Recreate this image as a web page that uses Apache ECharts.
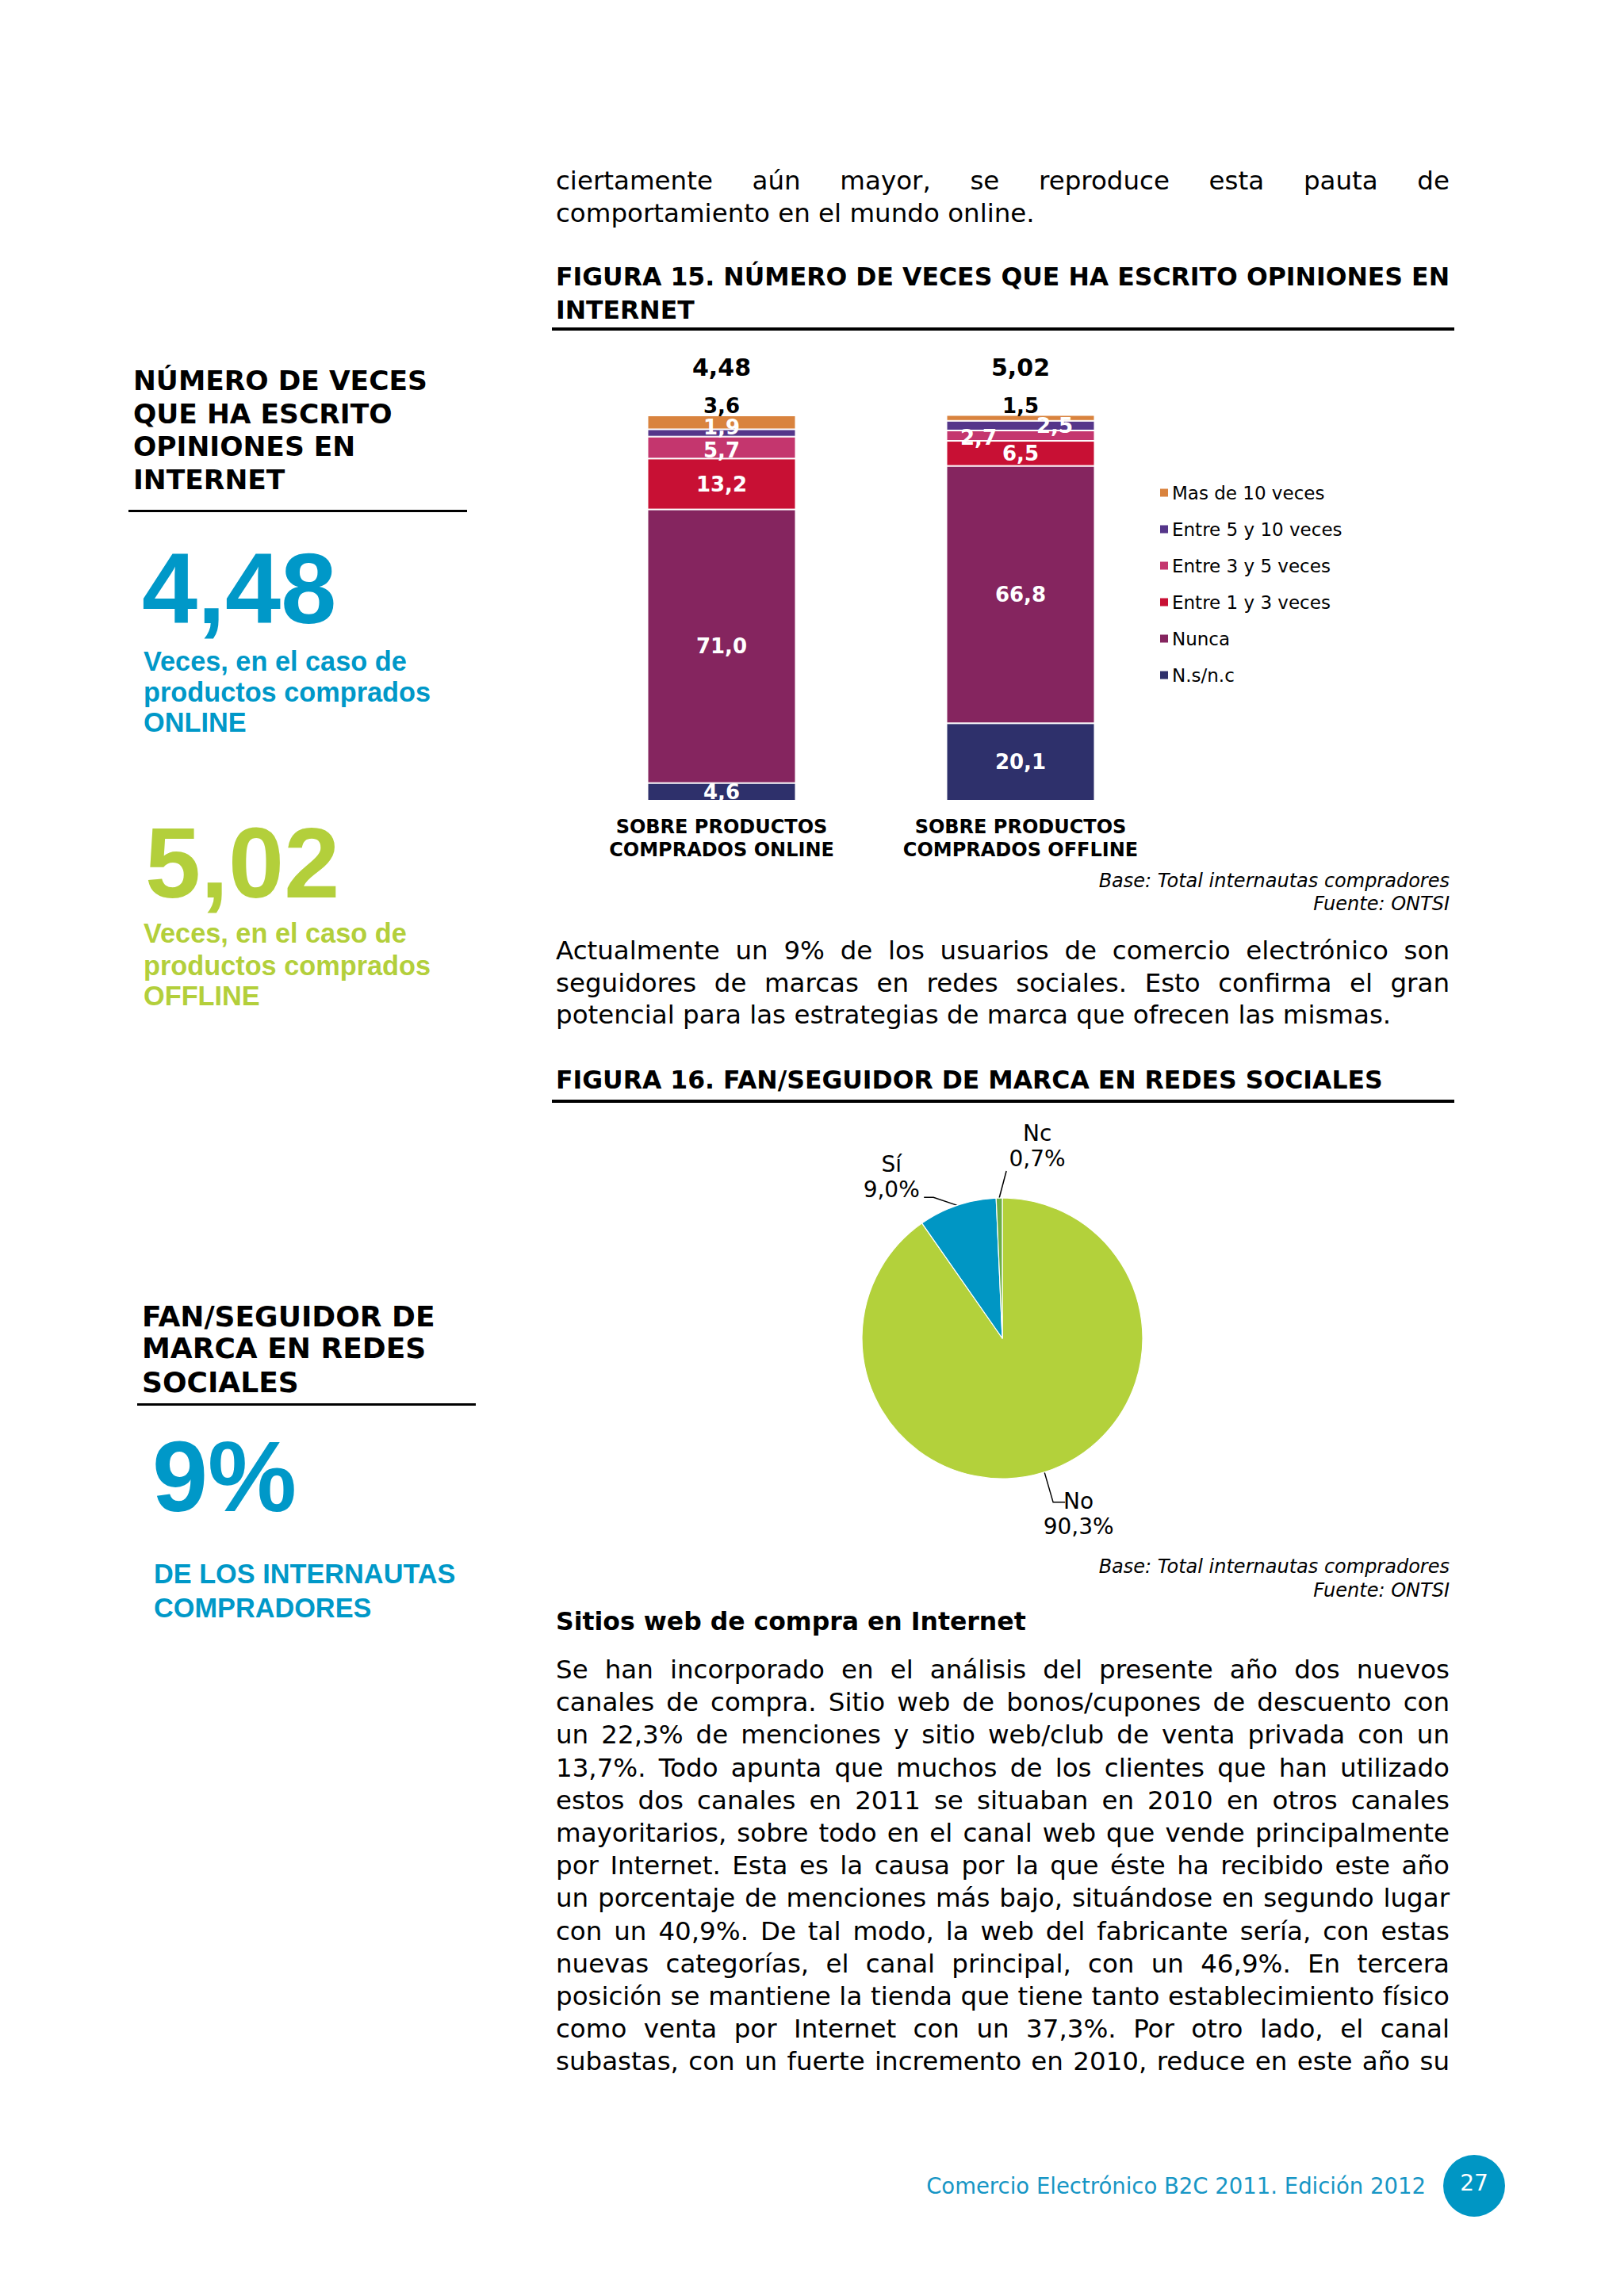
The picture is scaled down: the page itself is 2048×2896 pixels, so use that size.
<!DOCTYPE html>
<html>
<head>
<meta charset="utf-8">
<script src="https://cdn.jsdelivr.net/npm/echarts@6/dist/echarts.min.js"></script>
<style>
html,body{margin:0;padding:0;background:#fff;}
#page{position:relative;width:2048px;height:2896px;overflow:hidden;background:#fff;}
#chart{position:absolute;left:0;top:0;width:2048px;height:2896px;}
.t{position:absolute;white-space:nowrap;color:#000;font-family:'DejaVu Sans',Verdana,sans-serif;z-index:2;}
.body{left:701px;width:1127px;font-size:32.5px;height:40px;line-height:40px;}
.j{text-align:justify;text-align-last:justify;}
.h{font-weight:bold;font-size:31.5px;}
.rule{position:absolute;background:#000;z-index:2;}
.side{font-weight:bold;font-size:34.5px;line-height:40px;height:40px;}
.side2{font-weight:bold;font-size:36px;line-height:40px;height:40px;}
.big{font-family:'Liberation Sans',Arial,sans-serif;font-weight:bold;font-size:126px;line-height:126px;height:126px;}
.sub{font-family:'Liberation Sans',Arial,sans-serif;font-weight:bold;font-size:34.3px;line-height:38px;height:38px;}
.blue{color:#0098C8;}
.green{color:#B3CF3B;}
.src{font-style:italic;font-size:24px;line-height:28px;height:28px;right:220px;text-align:right;}
.foot{font-size:27.5px;line-height:34px;height:34px;right:250px;top:2740px;color:#1796C5;}
.circle{position:absolute;left:1820px;top:2718px;width:78px;height:78px;border-radius:50%;background:#0096C4;color:#fff;font-family:'DejaVu Sans',sans-serif;font-size:28px;line-height:72px;text-align:center;z-index:2;}
</style>
</head>
<body>
<div id="page">
  <div id="chart"></div>

  <!-- Main column text -->
  <div class="t body j" style="top:208px;">ciertamente aún mayor, se reproduce esta pauta de</div>
  <div class="t body" style="top:249px;">comportamiento en el mundo online.</div>

  <div class="t body h j" style="top:329px;">FIGURA 15. NÚMERO DE VECES QUE HA ESCRITO OPINIONES EN</div>
  <div class="t body h" style="top:371px;">INTERNET</div>
  <div class="rule" style="left:696px;top:413px;width:1138px;height:4px;"></div>

  <div class="t src" style="top:1097px;">Base: Total internautas compradores</div>
  <div class="t src" style="top:1126px;">Fuente: ONTSI</div>

  <div class="t body j" style="top:1179px;">Actualmente un 9% de los usuarios de comercio electrónico son</div>
  <div class="t body j" style="top:1220px;">seguidores de marcas en redes sociales. Esto confirma el gran</div>
  <div class="t body" style="top:1260px;">potencial para las estrategias de marca que ofrecen las mismas.</div>

  <div class="t body h" style="top:1342px;">FIGURA 16. FAN/SEGUIDOR DE MARCA EN REDES SOCIALES</div>
  <div class="rule" style="left:696px;top:1387px;width:1138px;height:4px;"></div>

  <div class="t src" style="top:1962px;">Base: Total internautas compradores</div>
  <div class="t src" style="top:1992px;">Fuente: ONTSI</div>

  <div class="t body h" style="top:2025px;">Sitios web de compra en Internet</div>

  <div class="t body j" style="top:2086px;">Se han incorporado en el análisis del presente año dos nuevos</div>
  <div class="t body j" style="top:2127px;">canales de compra. Sitio web de bonos/cupones de descuento con</div>
  <div class="t body j" style="top:2168px;">un 22,3% de menciones y sitio web/club de venta privada con un</div>
  <div class="t body j" style="top:2210px;">13,7%. Todo apunta que muchos de los clientes que han utilizado</div>
  <div class="t body j" style="top:2251px;">estos dos canales en 2011 se situaban en 2010 en otros canales</div>
  <div class="t body j" style="top:2292px;">mayoritarios, sobre todo en el canal web que vende principalmente</div>
  <div class="t body j" style="top:2333px;">por Internet. Esta es la causa por la que éste ha recibido este año</div>
  <div class="t body j" style="top:2374px;">un porcentaje de menciones más bajo, situándose en segundo lugar</div>
  <div class="t body j" style="top:2416px;">con un 40,9%. De tal modo, la web del fabricante sería, con estas</div>
  <div class="t body j" style="top:2457px;">nuevas categorías, el canal principal, con un 46,9%. En tercera</div>
  <div class="t body j" style="top:2498px;">posición se mantiene la tienda que tiene tanto establecimiento físico</div>
  <div class="t body j" style="top:2539px;">como venta por Internet con un 37,3%. Por otro lado, el canal</div>
  <div class="t body j" style="top:2580px;">subastas, con un fuerte incremento en 2010, reduce en este año su</div>

  <!-- Sidebar -->
  <div class="t side" style="left:168px;top:460px;">NÚMERO DE VECES</div>
  <div class="t side" style="left:168px;top:502px;">QUE HA ESCRITO</div>
  <div class="t side" style="left:168px;top:543px;">OPINIONES EN</div>
  <div class="t side" style="left:168px;top:585px;">INTERNET</div>
  <div class="rule" style="left:162px;top:643px;width:427px;height:3px;"></div>

  <div class="t big blue" style="left:179px;top:680px;">4,48</div>
  <div class="t sub blue" style="left:181px;top:815px;">Veces, en el caso de</div>
  <div class="t sub blue" style="left:181px;top:854px;">productos comprados</div>
  <div class="t sub blue" style="left:181px;top:892px;">ONLINE</div>

  <div class="t big green" style="left:183px;top:1026px;">5,02</div>
  <div class="t sub green" style="left:181px;top:1158px;">Veces, en el caso de</div>
  <div class="t sub green" style="left:181px;top:1199px;">productos comprados</div>
  <div class="t sub green" style="left:181px;top:1237px;">OFFLINE</div>

  <div class="t side2" style="left:179px;top:1641px;">FAN/SEGUIDOR DE</div>
  <div class="t side2" style="left:179px;top:1681px;">MARCA EN REDES</div>
  <div class="t side2" style="left:179px;top:1724px;">SOCIALES</div>
  <div class="rule" style="left:173px;top:1770px;width:427px;height:3px;"></div>

  <div class="t big blue" style="left:192px;top:1800px;">9%</div>
  <div class="t sub blue" style="left:194px;top:1966px;">DE LOS INTERNAUTAS</div>
  <div class="t sub blue" style="left:194px;top:2009px;">COMPRADORES</div>

  <!-- Footer -->
  <div class="t foot">Comercio Electrónico B2C 2011. Edición 2012</div>
  <div class="circle">27</div>
</div>

<script>
// ---------- Data ----------
const categories = ['SOBRE PRODUCTOS\nCOMPRADOS ONLINE', 'SOBRE PRODUCTOS\nCOMPRADOS OFFLINE'];
const meanTimes = [4.48, 5.02];
const nsnc = [4.6, 20.1];
const nunca = [71.0, 66.8];
const entre1y3 = [13.2, 6.5];
const entre3y5 = [5.7, 2.7];
const entre5y10 = [1.9, 2.5];
const mas10 = [3.6, 1.5];
const stackNames = ['N.s/n.c', 'Nunca', 'Entre 1 y 3 veces', 'Entre 3 y 5 veces', 'Entre 5 y 10 veces', 'Mas de 10 veces'];
const legendOrder = ['Mas de 10 veces', 'Entre 5 y 10 veces', 'Entre 3 y 5 veces', 'Entre 1 y 3 veces', 'Nunca', 'N.s/n.c'];

const pieNames = ['No', 'Sí', 'Nc'];
const pieValues = [90.3, 9.0, 0.7];

// ---------- Styles ----------
const FONT = "'DejaVu Sans', Verdana, sans-serif";
const barColors = {
  'N.s/n.c': '#2E306B',
  'Nunca': '#85255F',
  'Entre 1 y 3 veces': '#C81034',
  'Entre 3 y 5 veces': '#C4366E',
  'Entre 5 y 10 veces': '#55368A',
  'Mas de 10 veces': '#D9833E'
};
const labelOffsets = {
  'Entre 5 y 10 veces': [[0, -7], [43, 0]],
  'Entre 3 y 5 veces': [[0, 3], [-53, 2]]
};
const pieColors = ['#B3D13B', '#0096C4', '#6CAE45'];
const PIE_CX = 1264, PIE_CY = 1688, PIE_R = 177;
const pieLabelPlacement = [
  { dx: 43, dy: 21, va: 'top', line: [[11, 38], [26, 38]] },
  { dx: -83, dy: -4, va: 'bottom', line: [[-30, -10], [-42, -10]] },
  { dx: 48, dy: -34, va: 'bottom', line: [[9, -34]] }
];

const fmt1 = v => Number(v).toFixed(1).replace('.', ',');
const fmt2 = v => Number(v).toFixed(2).replace('.', ',');

// rim points at each slice's mid angle (clockwise from 12 o'clock)
const pieTotal = pieValues.reduce((a, b) => a + b, 0);
let cum = 0;
const rim = pieValues.map(v => {
  const a = 2 * Math.PI * (cum + v / 2) / pieTotal;
  cum += v;
  return [PIE_CX + PIE_R * Math.sin(a), PIE_CY - PIE_R * Math.cos(a)];
});

const stackValues = [nsnc, nunca, entre1y3, entre3y5, entre5y10, mas10];
const barSeries = stackValues.map((vals, k) => {
  const name = stackNames[k];
  const isTop = name === 'Mas de 10 veces';
  const off = labelOffsets[name];
  return {
    type: 'bar',
    name: name,
    stack: 'total',
    barWidth: 187,
    itemStyle: { color: barColors[name], borderColor: '#ffffff', borderWidth: 1 },
    label: {
      show: true,
      position: isTop ? 'top' : 'inside',
      distance: 1,
      color: isTop ? '#000' : '#fff',
      fontFamily: FONT,
      fontWeight: 'bold',
      fontSize: 26,
      lineHeight: 22,
      formatter: p => fmt1(p.value)
    },
    data: vals.map((v, i) => off ? { value: v, label: { offset: off[i] } } : v)
  };
});

const pieSeries = {
  type: 'pie',
  center: [PIE_CX, PIE_CY],
  radius: PIE_R,
  startAngle: 90,
  clockwise: true,
  avoidLabelOverlap: false,
  data: pieNames.map((n, i) => ({ name: n, value: pieValues[i], itemStyle: { color: pieColors[i] } })),
  itemStyle: { borderColor: '#ffffff', borderWidth: 1.2 },
  label: {
    show: true,
    position: 'outside',
    formatter: p => p.name + '\n' + fmt1(p.value) + '%',
    fontFamily: FONT,
    fontSize: 28,
    lineHeight: 32,
    color: '#000',
    align: 'center'
  },
  labelLine: { show: true, length: 10, length2: 10, lineStyle: { color: '#000', width: 1.5 } },
  labelLayout: params => {
    const i = params.dataIndex;
    const p = pieLabelPlacement[i];
    const e = rim[i];
    return {
      x: e[0] + p.dx,
      y: e[1] + p.dy,
      align: 'center',
      verticalAlign: p.va,
      labelLinePoints: [e.slice()].concat(p.line.map(d => [e[0] + d[0], e[1] + d[1]]))
    };
  }
};

const chart = echarts.init(document.getElementById('chart'), null, { renderer: 'svg' });
chart.setOption({
  animation: false,
  textStyle: { fontFamily: FONT },
  grid: { left: 721.5, top: 524, width: 754, height: 486, containLabel: false },
  xAxis: [
    {
      type: 'category', data: categories, position: 'bottom',
      axisLine: { show: false }, axisTick: { show: false }, splitLine: { show: false },
      axisLabel: { interval: 0, fontFamily: FONT, fontWeight: 'bold', fontSize: 24, lineHeight: 29, color: '#000', margin: 18 }
    },
    {
      type: 'category', data: meanTimes.map(fmt2), position: 'top',
      axisLabel: { interval: 0, fontFamily: FONT, fontWeight: 'bold', fontSize: 30, color: '#000', margin: 46 },
      axisLine: { show: false }, axisTick: { show: false }, splitLine: { show: false }
    }
  ],
  yAxis: { type: 'value', min: 0, max: 100, show: false },
  legend: {
    orient: 'vertical', left: 1463, top: 610, padding: 0,
    itemWidth: 10, itemHeight: 10, itemGap: 23, icon: 'rect',
    selectedMode: false,
    itemStyle: { borderWidth: 0 },
    data: legendOrder,
    textStyle: { fontFamily: FONT, fontSize: 23, lineHeight: 23, color: '#000' }
  },
  series: barSeries.concat([pieSeries])
});
</script>
</body>
</html>
